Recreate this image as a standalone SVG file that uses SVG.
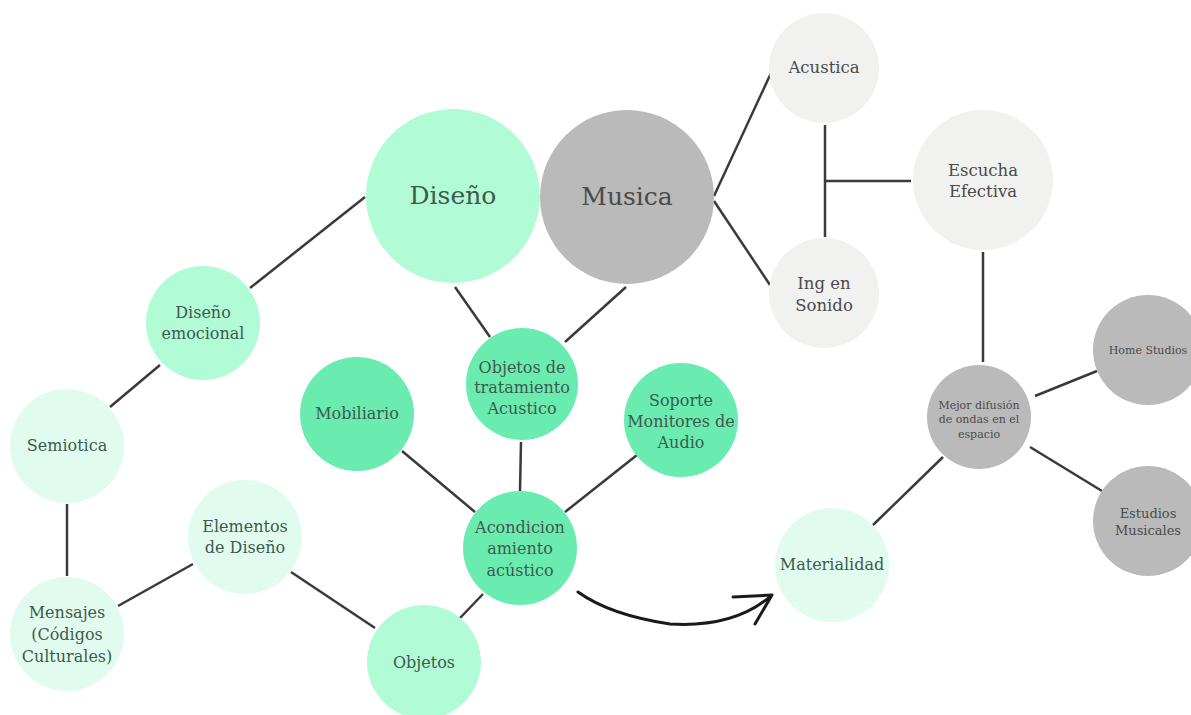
<svg xmlns="http://www.w3.org/2000/svg" width="1191" height="715" viewBox="0 0 1191 715">
<defs>
<style>
text{font-family:"DejaVu Serif","Liberation Serif",serif;text-anchor:middle;}
.g text{fill:#3d5a4c;font-size:16px;}
.k text{fill:#4a4a4a;font-size:16.5px;}
.big{font-size:25px !important;}
.sm{font-size:11px !important;}
.md{font-size:13px !important;}
.c-mint1{fill:#b1fbd7;}
.c-mint2{fill:#6aecb0;}
.c-mint3{fill:#e1fcee;}
.c-lg{fill:#f1f1ef;}
.c-dg{fill:#bababa;}
#connectors line{stroke:#3a3a3a;stroke-width:2.5;}
</style>
</defs>
<rect width="1191" height="715" fill="#ffffff"/>
<g id="connectors">
<line x1="365" y1="197" x2="250" y2="288"/>
<line x1="160" y1="365" x2="110" y2="407"/>
<line x1="67" y1="504" x2="67" y2="576"/>
<line x1="118" y1="606" x2="193" y2="564"/>
<line x1="291" y1="572" x2="375" y2="628"/>
<line x1="460" y1="618" x2="483" y2="594"/>
<line x1="455" y1="287" x2="490" y2="337"/>
<line x1="626" y1="287" x2="565" y2="342"/>
<line x1="521" y1="442" x2="520" y2="491"/>
<line x1="402" y1="451" x2="475" y2="512"/>
<line x1="637" y1="455" x2="565" y2="512"/>
<line x1="714" y1="196" x2="771" y2="73"/>
<line x1="714" y1="201" x2="770" y2="285"/>
<line x1="825" y1="125" x2="825" y2="237"/>
<line x1="825" y1="181" x2="911" y2="181"/>
<line x1="983" y1="252" x2="983" y2="362"/>
<line x1="1035" y1="396" x2="1097" y2="371"/>
<line x1="1030" y1="447" x2="1102" y2="491"/>
<line x1="943" y1="457" x2="873" y2="525"/>
<path d="M578 592 Q 610 615 670 624 Q 735 628 772 595 M733 597 L772 595 L755 624" fill="none" stroke="#1a1a1a" stroke-width="3" stroke-linecap="round" stroke-linejoin="round"/>
</g>
<g id="n-diseno" class="g"><circle class="c-mint1" cx="453" cy="196" r="87"/><text class="big" x="453" y="204">Diseño</text></g>
<g id="n-musica" class="k"><circle class="c-dg" cx="627" cy="197" r="87"/><text class="big" x="627" y="205">Musica</text></g>
<g id="n-diseno-emocional" class="g"><circle class="c-mint1" cx="203" cy="323" r="57"/><text x="203" y="318">Diseño</text><text x="203" y="339">emocional</text></g>
<g id="n-semiotica" class="g"><circle class="c-mint3" cx="67" cy="446" r="57"/><text x="67" y="451">Semiotica</text></g>
<g id="n-mensajes" class="g"><circle class="c-mint3" cx="67" cy="634" r="57"/><text x="67" y="618">Mensajes</text><text x="67" y="640">(Códigos</text><text x="67" y="662">Culturales)</text></g>
<g id="n-elementos" class="g"><circle class="c-mint3" cx="245" cy="537" r="57"/><text x="245" y="532">Elementos</text><text x="245" y="553">de Diseño</text></g>
<g id="n-objetos" class="g"><circle class="c-mint1" cx="424" cy="662" r="57"/><text x="424" y="668">Objetos</text></g>
<g id="n-mobiliario" class="g"><circle class="c-mint2" cx="357" cy="414" r="57"/><text x="357" y="419">Mobiliario</text></g>
<g id="n-objetos-tratamiento" class="g"><circle class="c-mint2" cx="522" cy="384" r="56"/><text x="522" y="373">Objetos de</text><text x="522" y="393">tratamiento</text><text x="522" y="414">Acustico</text></g>
<g id="n-soporte" class="g"><circle class="c-mint2" cx="681" cy="420" r="57"/><text x="681" y="406">Soporte</text><text x="681" y="427">Monitores de</text><text x="681" y="448">Audio</text></g>
<g id="n-acondicionamiento" class="g"><circle class="c-mint2" cx="520" cy="548" r="57"/><text x="520" y="533">Acondicion</text><text x="520" y="554">amiento</text><text x="520" y="576">acústico</text></g>
<g id="n-materialidad" class="g"><circle class="c-mint3" cx="832" cy="565" r="57"/><text x="832" y="570">Materialidad</text></g>
<g id="n-acustica" class="k"><circle class="c-lg" cx="824" cy="68" r="55"/><text x="824" y="73">Acustica</text></g>
<g id="n-escucha" class="k"><circle class="c-lg" cx="983" cy="180" r="70"/><text x="983" y="176">Escucha</text><text x="983" y="197">Efectiva</text></g>
<g id="n-ing" class="k"><circle class="c-lg" cx="824" cy="293" r="55"/><text x="824" y="289">Ing en</text><text x="824" y="311">Sonido</text></g>
<g id="n-mejor" class="k"><circle class="c-dg" cx="979" cy="417" r="52"/><text class="sm" x="979" y="409">Mejor difusión</text><text class="sm" x="979" y="423">de ondas en el</text><text class="sm" x="979" y="438">espacio</text></g>
<g id="n-home" class="k"><circle class="c-dg" cx="1148" cy="350" r="55"/><text class="sm" x="1148" y="354">Home Studios</text></g>
<g id="n-estudios" class="k"><circle class="c-dg" cx="1148" cy="521" r="55"/><text class="md" x="1148" y="518">Estudios</text><text class="md" x="1148" y="535">Musicales</text></g>
</svg>
